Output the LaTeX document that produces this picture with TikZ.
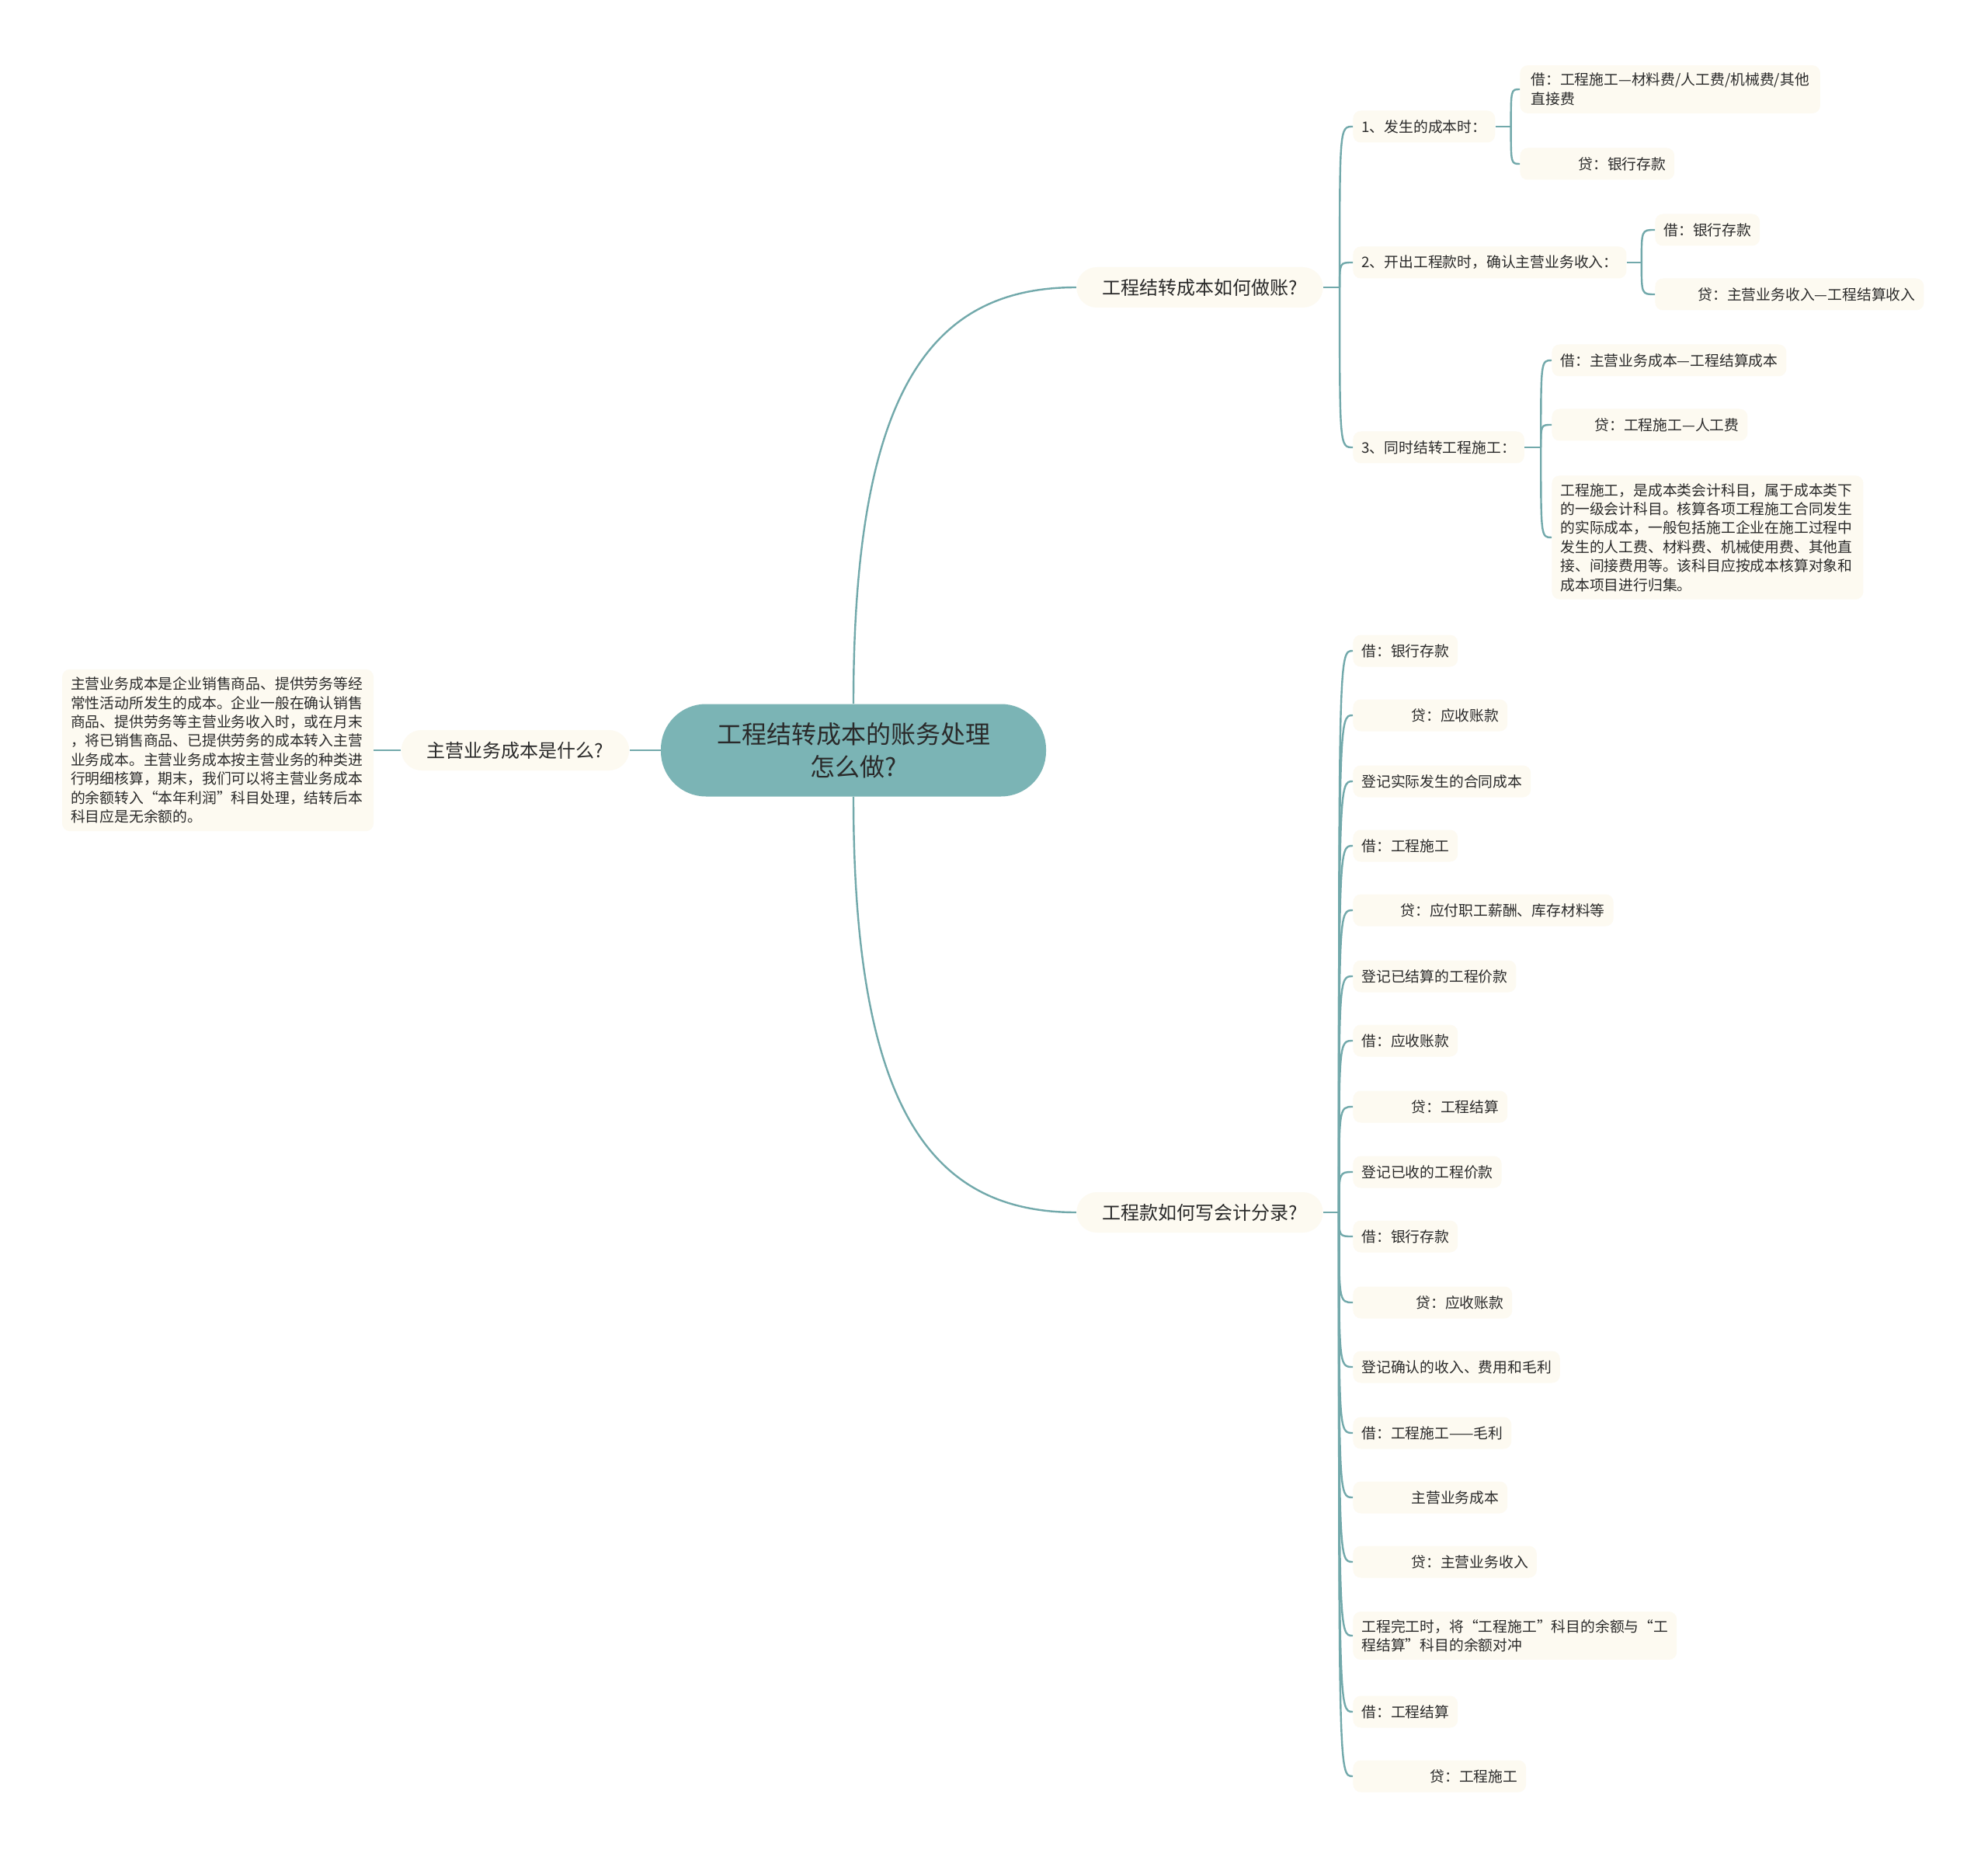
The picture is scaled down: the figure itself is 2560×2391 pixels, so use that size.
\documentclass[tikz,border=0pt]{standalone}
\usepackage{fontspec}
\setmainfont{Noto Sans CJK SC}
\usetikzlibrary{positioning, calc}
\definecolor{linkteal}{HTML}{72A9AB}
\definecolor{rootfill}{HTML}{7BB4B5}
\definecolor{leaffill}{HTML}{FDFAF1}
\definecolor{textdark}{HTML}{2A2A2A}

\begin{document}
\begin{tikzpicture}[
    x=0.5pt, y=-0.5pt,
    every node/.style={text=textdark},
    rootbox/.style={
        fill=rootfill,
        rounded corners=29pt,
        minimum width=248pt, minimum height=59.5pt,
        align=center,
        font=\fontsize{16}{21}\selectfont
    },
    topic/.style={
        fill=leaffill,
        rounded corners=13pt,
        minimum height=26pt, inner xsep=16.5pt,
        font=\fontsize{12}{14}\selectfont
    },
    leaf/.style={
        fill=leaffill,
        rounded corners=5pt,
        minimum height=20.5pt, inner xsep=5.5pt,
        anchor=west, align=left,
        font=\fontsize{9.4}{12.2}\selectfont
    },
    note/.style={leaf, text width=189.5pt, inner ysep=5pt},
    link/.style={draw=linkteal, line width=1.2pt}
]
\useasboundingbox[fill=white] (0,0) rectangle (2560,2391);

% Nodes
\node[rootbox] (root) at (1099,966) {工程结转成本的账务处理\\怎么做?};

\node[topic, left=20pt of root] (whatcost) {主营业务成本是什么?};
\node[note, anchor=east, left=17.5pt of whatcost] (costnote)
    {主营业务成本是企业销售商品、提供劳务等经\\
     常性活动所发生的成本。企业一般在确认销售\\
     商品、提供劳务等主营业务收入时，或在月末\\
     ，将已销售商品、已提供劳务的成本转入主营\\
     业务成本。主营业务成本按主营业务的种类进\\
     行明细核算，期末，我们可以将主营业务成本\\
     的余额转入“本年利润”科目处理，结转后本\\
     科目应是无余额的。};

\node[topic] (howbook) at (1545,370) {工程结转成本如何做账?};
\node[topic] (howentry) at (1545,1561) {工程款如何写会计分录?};

% Branch: how to book
\node[leaf] (step1) at (1742,163) {1、发生的成本时：};
\node[leaf] (step2) at (1742,338) {2、开出工程款时，确认主营业务收入：};
\node[leaf] (step3) at (1742,576) {3、同时结转工程施工：};

\node[leaf, inner ysep=5pt, inner xsep=7pt] (step1dr) at (1957,115) {借：工程施工—材料费/人工费/机械费/其他\\直接费};
\node[leaf] (step1cr) at (1957,211) {\hspace*{32pt}贷：银行存款};
\node[leaf] (step2dr) at (2131,296) {借：银行存款};
\node[leaf] (step2cr) at (2131,379) {\hspace*{22pt}贷：主营业务收入—工程结算收入};
\node[leaf] (step3dr) at (1998,464) {借：主营业务成本—工程结算成本};
\node[leaf] (step3cr) at (1998,547) {\hspace*{22pt}贷：工程施工—人工费};
\node[note] (step3note) at (1998,692)
    {工程施工，是成本类会计科目，属于成本类下\\
     的一级会计科目。核算各项工程施工合同发生\\
     的实际成本，一般包括施工企业在施工过程中\\
     发生的人工费、材料费、机械使用费、其他直\\
     接、间接费用等。该科目应按成本核算对象和\\
     成本项目进行归集。};

% Branch: journal entries
\node[leaf] (e1) at (1742,838) {借：银行存款};
\node[leaf] (e2) at (1742,921) {\hspace*{32pt}贷：应收账款};
\node[leaf] (e3) at (1742,1006) {登记实际发生的合同成本};
\node[leaf] (e4) at (1742,1089) {借：工程施工};
\node[leaf] (e5) at (1742,1172) {\hspace*{25pt}贷：应付职工薪酬、库存材料等};
\node[leaf] (e6) at (1742,1257) {登记已结算的工程价款};
\node[leaf] (e7) at (1742,1340) {借：应收账款};
\node[leaf] (e8) at (1742,1425) {\hspace*{32pt}贷：工程结算};
\node[leaf] (e9) at (1742,1509) {登记已收的工程价款};
\node[leaf] (e10) at (1742,1592) {借：银行存款};
\node[leaf] (e11) at (1742,1677) {\hspace*{35pt}贷：应收账款};
\node[leaf] (e12) at (1742,1760) {登记确认的收入、费用和毛利};
\node[leaf] (e13) at (1742,1845) {借：工程施工——毛利};
\node[leaf] (e14) at (1742,1928) {\hspace*{32pt}主营业务成本};
\node[leaf] (e15) at (1742,2011) {\hspace*{32pt}贷：主营业务收入};
\node[leaf, inner ysep=5pt] (e16) at (1742,2106) {工程完工时，将“工程施工”科目的余额与“工\\程结算”科目的余额对冲};
\node[leaf] (e17) at (1742,2204) {借：工程结算};
\node[leaf] (e18) at (1742,2287) {\hspace*{44pt}贷：工程施工};

% Hubs
\coordinate (bookhub) at ([xshift=10.5pt]howbook.east);
\coordinate (entryhub) at ([xshift=10pt]howentry.east);
\coordinate (step1hub) at ([xshift=10pt]step1.east);
\coordinate (step2hub) at ([xshift=9.5pt]step2.east);
\coordinate (step3hub) at ([xshift=10.5pt]step3.east);

% Links
\draw[link] (root.west) -- (whatcost.east);
\draw[link] (whatcost.west) -- (costnote.east);
\draw[link] (root.north) .. controls (1099,500) and (1200,370) .. (howbook.west);
\draw[link] (root.south) .. controls (1099,1430) and (1200,1561) .. (howentry.west);

\draw[link] (howbook.east) -- (bookhub);
\draw[link] (bookhub) .. controls (bookhub |- step1.west) .. (step1.west);
\draw[link] (bookhub) .. controls (bookhub |- step2.west) .. (step2.west);
\draw[link] (bookhub) .. controls (bookhub |- step3.west) .. (step3.west);

\draw[link] (step1.east) -- (step1hub);
\draw[link] (step1hub) .. controls (step1hub |- step1dr.west) .. (step1dr.west);
\draw[link] (step1hub) .. controls (step1hub |- step1cr.west) .. (step1cr.west);
\draw[link] (step2.east) -- (step2hub);
\draw[link] (step2hub) .. controls (step2hub |- step2dr.west) .. (step2dr.west);
\draw[link] (step2hub) .. controls (step2hub |- step2cr.west) .. (step2cr.west);
\draw[link] (step3.east) -- (step3hub);
\draw[link] (step3hub) .. controls (step3hub |- step3dr.west) .. (step3dr.west);
\draw[link] (step3hub) .. controls (step3hub |- step3cr.west) .. (step3cr.west);
\draw[link] (step3hub) .. controls (step3hub |- step3note.west) .. (step3note.west);

\draw[link] (howentry.east) -- (entryhub);
\draw[link] (entryhub) .. controls (entryhub |- e1.west) .. (e1.west);
\draw[link] (entryhub) .. controls (entryhub |- e2.west) .. (e2.west);
\draw[link] (entryhub) .. controls (entryhub |- e3.west) .. (e3.west);
\draw[link] (entryhub) .. controls (entryhub |- e4.west) .. (e4.west);
\draw[link] (entryhub) .. controls (entryhub |- e5.west) .. (e5.west);
\draw[link] (entryhub) .. controls (entryhub |- e6.west) .. (e6.west);
\draw[link] (entryhub) .. controls (entryhub |- e7.west) .. (e7.west);
\draw[link] (entryhub) .. controls (entryhub |- e8.west) .. (e8.west);
\draw[link] (entryhub) .. controls (entryhub |- e9.west) .. (e9.west);
\draw[link] (entryhub) .. controls (entryhub |- e10.west) .. (e10.west);
\draw[link] (entryhub) .. controls (entryhub |- e11.west) .. (e11.west);
\draw[link] (entryhub) .. controls (entryhub |- e12.west) .. (e12.west);
\draw[link] (entryhub) .. controls (entryhub |- e13.west) .. (e13.west);
\draw[link] (entryhub) .. controls (entryhub |- e14.west) .. (e14.west);
\draw[link] (entryhub) .. controls (entryhub |- e15.west) .. (e15.west);
\draw[link] (entryhub) .. controls (entryhub |- e16.west) .. (e16.west);
\draw[link] (entryhub) .. controls (entryhub |- e17.west) .. (e17.west);
\draw[link] (entryhub) .. controls (entryhub |- e18.west) .. (e18.west);

\end{tikzpicture}
\end{document}
